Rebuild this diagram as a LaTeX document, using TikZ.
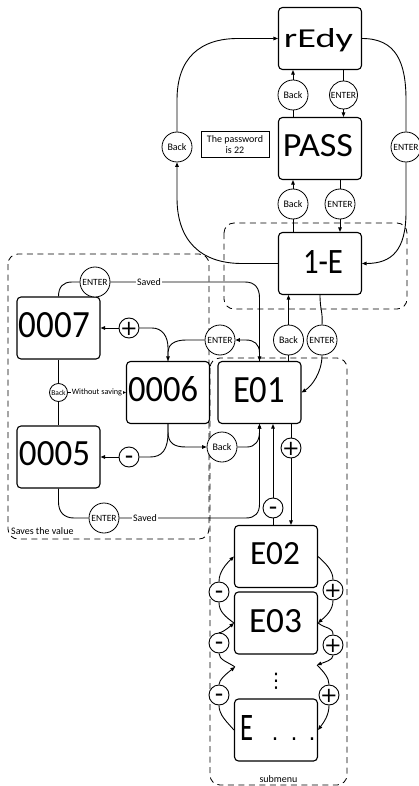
\documentclass[tikz,border=0pt]{standalone}
\usepackage{fontspec}
\setmainfont{Carlito}
\newfontfamily\seg{Carlito}
\newfontfamily\dv{DejaVu Sans}
\usetikzlibrary{arrows.meta}
\newcommand\symplus{{\dv\fontsize{21}{21}\selectfont\makebox[0pt]{\raisebox{-0.36em}[0pt][0pt]{+}}}}
\newcommand\symminus{{\dv\bfseries\fontsize{16}{16}\selectfont\makebox[0pt]{\raisebox{-0.30em}[0pt][0pt]{–}}}}
\begin{document}
\begin{tikzpicture}[x=1pt,y=-1pt,
  disp/.style={draw, rounded corners=4pt, line width=1.1pt, fill=white, minimum width=83pt, minimum height=62pt, inner sep=0pt},
  segtxt/.style={inner sep=0pt, font=\seg},
  circ/.style={draw, circle, fill=white, line width=0.8pt, minimum size=30pt, inner sep=0pt, font=\fontsize{10}{12}\selectfont},
  ent/.style={circ, font=\fontsize{9.5}{11}\selectfont},
  pm/.style={draw, circle, fill=white, line width=0.9pt, minimum size=20pt, inner sep=0pt},
  conn/.style={line width=0.9pt},
  arr/.style={conn, -{Triangle[length=4.5pt,width=3.6pt]}},
  grp/.style={draw, dash pattern=on 6pt off 4.5pt, line width=0.8pt, rounded corners=10pt},
  lbl/.style={fill=white, inner sep=1pt, font=\fontsize{10}{12}\selectfont},
]
\useasboundingbox (0,0) rectangle (419,786);

% groups
\draw[grp] (224,223) rectangle (407,309);
\draw[grp] (8,254) rectangle (209,539);
\draw[grp] (210,358) rectangle (347,785);
\node[inner sep=0pt, anchor=west, font=\fontsize{10}{12}\selectfont] (svv) at (11,531) {Saves the value};
\node[inner sep=0pt, font=\fontsize{10}{12}\selectfont] (sub) at (278.5,779) {submenu};

% displays
\node[disp] (rd) at (320,38.5) {};
\node[segtxt] (rdT) at (318.5,40) {\resizebox{69pt}{19pt}{rEdy}};
\node[disp] (ps) at (320,148.5) {};
\node[segtxt] (psT) at (318,146) {\resizebox{70pt}{22pt}{PASS}};
\node[disp] (ie) at (320,263.5) {};
\node[segtxt] (ieT) at (323,261.5) {\resizebox{40pt}{23pt}{1-E}};
\node[disp] (e01) at (259.5,392.5) {};
\node[segtxt] (e01T) at (259,390.5) {\resizebox{52pt}{25pt}{E01}};
\node[disp] (p7) at (58.5,328) {};
\node[segtxt] (p7T) at (54.5,325.5) {\resizebox{71pt}{25pt}{0007}};
\node[disp] (p6) at (168,392.5) {};
\node[segtxt] (p6T) at (163,389.5) {\resizebox{70pt}{25pt}{0006}};
\node[disp] (p5) at (58.5,457) {};
\node[segtxt] (p5T) at (54.5,454) {\resizebox{71pt}{24pt}{0005}};
\node[disp] (e02) at (276,556.5) {};
\node[segtxt] (e02T) at (275,554) {\resizebox{50pt}{22pt}{E02}};
\node[disp] (e03) at (276,623) {};
\node[segtxt] (e03T) at (275.5,621.5) {\resizebox{53pt}{23pt}{E03}};
\node[disp] (ex) at (276,730) {};
\node[segtxt, anchor=base west] (exT) at (240,740) {\resizebox{13pt}{25pt}{E}\hspace{18.5pt}{\dv\fontsize{22}{22}\selectfont .\hspace{12pt}.\hspace{11pt}.}};
\node[inner sep=0pt, font=\dv\fontsize{20}{20}\selectfont] (vd) at (276,681) {⋮};

% buttons
\node[circ] (bk1) at (293,95) {Back};
\node[ent, minimum size=28pt] (en1) at (343.5,95) {ENTER};
\node[circ] (bkL) at (177,147) {Back};
\node[ent] (enR) at (406,147) {ENTER};
\node[draw, line width=0.8pt, minimum width=68pt, minimum height=26pt, align=center, font=\fontsize{10}{11.5}\selectfont, inner sep=0pt] (pw) at (235,144.5) {The password\\is 22};
\node[circ] (bk2) at (293,204) {Back};
\node[ent] (en2) at (340,204) {ENTER};
\node[circ] (bk3) at (288.5,340) {Back};
\node[ent] (en3) at (322,340) {ENTER};
\node[ent] (en4) at (220,340) {ENTER};
\node[ent] (en5) at (95,282) {ENTER};
\node[pm] (pl1) at (129,328) {\symplus};
\node[circ, minimum size=18pt, font=\fontsize{7.5}{9}\selectfont] (bk4) at (58.5,392.5) {Back};
\node[pm] (mi1) at (129,457) {\symminus};
\node[circ] (bk5) at (222,447) {Back};
\node[ent] (en6) at (104,518) {ENTER};
\node[pm] (pl2) at (291,448) {\symplus};
\node[pm] (mi2) at (273,508) {\symminus};
\node[pm] (mi3) at (219,592) {\symminus};
\node[pm] (mi4) at (219,643) {\symminus};
\node[pm] (mi5) at (219,695) {\symminus};
\node[pm] (pl3) at (333,590) {\symplus};
\node[pm] (pl4) at (333,645) {\symplus};
\node[pm] (pl5) at (329,695) {\symplus};
\coordinate (dl) at (235,667);
\coordinate (dr) at (317,665);

% outer loop
\draw[arr] (ie.west) -- (242,263.5) .. controls (200,263.5) and (177,240) .. (177,198) -- (bkL.south);
\draw[arr] (bkL.north) -- (177,100) .. controls (177,58) and (200,38.5) .. (238,38.5) -- (rd.west);
\draw[conn] (rd.east) .. controls (396,38.5) and (406,62) .. (406,100) -- (enR.north);
\draw[arr] (enR.south) -- (406,212) .. controls (406,250) and (392,263.5) .. (ie.east);

% vertical chain
\draw[conn] (en1.north) -- (en1.north |- rd.south);
\draw[arr] (en1.south) -- (en1.south |- ps.north);
\draw[conn] (bk1.south) -- (bk1.south |- ps.north);
\draw[arr] (bk1.north) -- (bk1.north |- rd.south);
\draw[conn] (en2.north) -- (en2.north |- ps.south);
\draw[arr] (en2.south) -- (en2.south |- ie.north);
\draw[conn] (bk2.south) -- (bk2.south |- ie.north);
\draw[arr] (bk2.north) -- (bk2.north |- ps.south);
\draw[conn] (ie.south) .. controls (320,310) and (323,312) .. (en3.north);
\draw[arr] (en3.south) .. controls (322,372) and (312,386) .. (e01.east);
\draw[arr] (bk3.north) -- (bk3.north |- ie.south);
\draw[conn] (bk3.south) -- (bk3.south |- e01.north);

% value editing
\draw[arr] (e01.north) -- (259.5,353) .. controls (259.5,344) and (254,340) .. (246,340) -- (en4.east);
\draw[arr] (en4.west) -- (186,340) .. controls (174,340) and (168,345) .. (168,352) -- (p6.north);
\draw[conn] (p6.north) -- (168,348) .. controls (168,336) and (162,328) .. (152,328) -- (pl1.east);
\draw[arr] (pl1.west) -- (p7.east);
\draw[conn] (p6.south) -- (168,432) .. controls (168,450) and (162,457) .. (150,457) -- (mi1.east);
\draw[arr] (mi1.west) -- (p5.east);
\draw[arr] (p6.south) -- (168,432) .. controls (168,443) and (174,447) .. (186,447) -- (bk5.west);
\draw[arr] (bk5.east) -- (247,447) .. controls (255,447) and (259.5,441) .. (259.5,432) -- (e01.south);
\draw[conn] (p7.north) .. controls (58.5,287) and (63,282) .. (72,282) -- (en5.west);
\draw[arr] (en5.east) -- (245,282) .. controls (255,282) and (259.5,288) .. (259.5,298) -- (e01.north);
\node[lbl] (sv1) at (149,282) {Saved};
\draw[conn] (p5.south) -- (58.5,502) .. controls (58.5,512) and (64,518) .. (74,518) -- (en6.west);
\draw[arr] (en6.east) -- (246,518) .. controls (255,518) and (259.5,513) .. (259.5,504) -- (e01.south);
\node[lbl] (sv2) at (145,518) {Saved};
\draw[conn] (p7.south) -- (bk4.north);
\draw[conn] (bk4.south) -- (p5.north);
\draw[conn, -{Triangle[length=3pt,width=2.6pt]}] (bk4.east) -- (p6.west);
\node[lbl, font=\fontsize{8.2}{10}\selectfont] (ws) at (97,392.5) {Without saving};

% submenu
\draw[arr] (mi2.north) -- (mi2.north |- e01.south);
\draw[conn] (mi2.south) -- (mi2.south |- e02.north);
\draw[conn] (pl2.north) -- (pl2.north |- e01.south);
\draw[arr] (pl2.south) -- (pl2.south |- e02.north);
\draw[arr] (mi3.north) .. controls (219,572) and (226,564) .. (e02.west);
\draw[conn] (mi3.south) .. controls (219,612) and (226,617) .. (e03.west);
\draw[arr] (mi4.north) .. controls (219,634) and (226,630) .. (e03.west);
\draw[conn] (mi4.south) .. controls (219,660) and (228,662) .. (dl);
\draw[arr] (mi5.north) .. controls (219,680) and (226,674) .. (dl);
\draw[conn] (mi5.south) .. controls (219,715) and (227,722) .. (ex.west);
\draw[conn] (e02.east) .. controls (325,563) and (333,570) .. (pl3.north);
\draw[arr] (pl3.south) .. controls (333,610) and (326,616) .. (e03.east);
\draw[conn] (e03.east) .. controls (326,629) and (333,627) .. (pl4.north);
\draw[arr] (pl4.south) .. controls (333,660) and (325,662) .. (dr);
\draw[conn] (dr) .. controls (324,672) and (329,678) .. (pl5.north);
\draw[arr] (pl5.south) .. controls (329,715) and (324,722) .. (ex.east);
\end{tikzpicture}
\end{document}
